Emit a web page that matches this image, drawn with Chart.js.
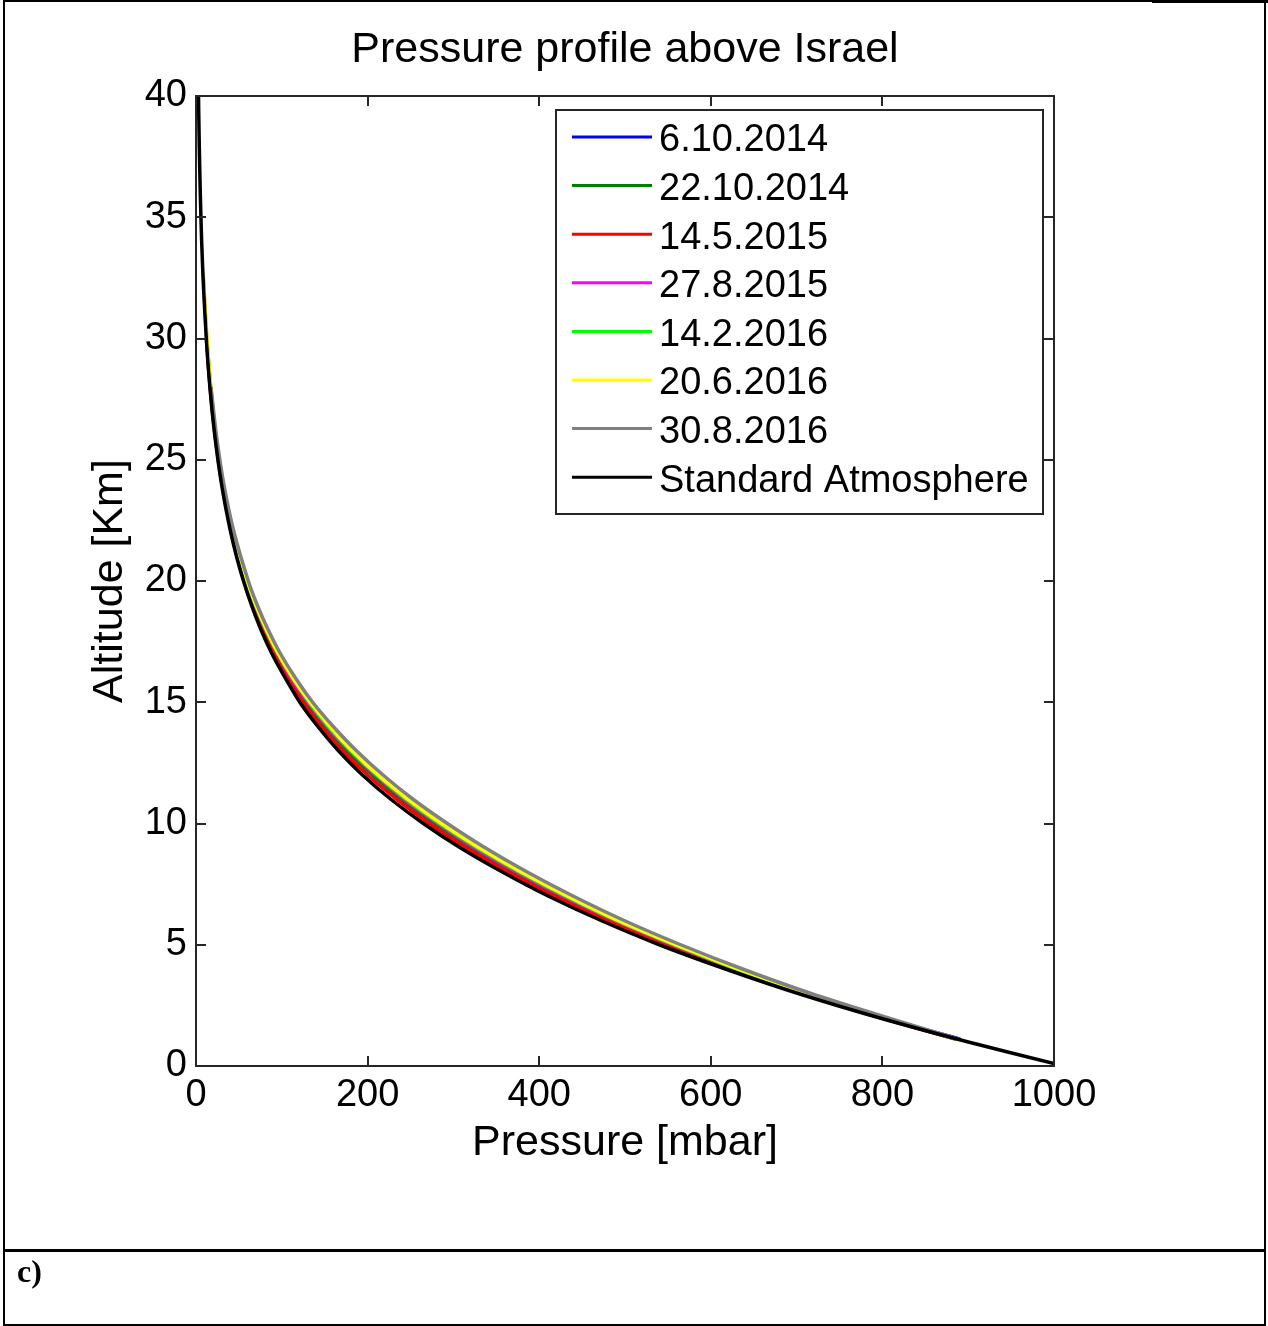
<!DOCTYPE html>
<html>
<head>
<meta charset="utf-8">
<script src="https://cdn.jsdelivr.net/npm/chart.js@4.4.1/dist/chart.umd.min.js"></script>
<style>
    html, body { margin: 0; padding: 0; background: #fff; }
    #page { position: relative; width: 1268px; height: 1326px; overflow: hidden; background: #fff; }
    #chart { position: absolute; left: 0; top: 0; }
    .rule { position: absolute; background: #000; }
    #panel { position: absolute; left: 17px; top: 1253px; font: bold 32px "Liberation Serif", "Times New Roman", serif; color: #000; }
</style>
</head>
<body>
<div id="page">
    <canvas id="chart" width="1268" height="1326"></canvas>
    <div class="rule" style="left:3px;top:0;width:1265px;height:2px"></div>
    <div class="rule" style="left:1152px;top:0;width:116px;height:3px"></div>
    <div class="rule" style="left:3px;top:0;width:2px;height:1326px"></div>
    <div class="rule" style="left:1264px;top:0;width:2px;height:1326px"></div>
    <div class="rule" style="left:3px;top:1249px;width:1263px;height:3px"></div>
    <div class="rule" style="left:3px;top:1324px;width:1263px;height:2px"></div>
    <div id="panel">c)</div>
</div>
<script>
// altitude in km, pressure in mbar
const stdAltitude = [0.1, 1, 2, 3, 4, 5, 6, 7, 8, 9, 10, 11, 12, 13, 14, 15, 16, 17, 18, 19, 20,
    21, 22, 23, 24, 25, 26, 27, 28, 29, 30, 32, 34, 36, 38, 40];
const stdPressure = [1000, 899, 795, 701, 617, 540, 472, 411, 357, 308, 265, 227, 194, 166, 142, 121, 104, 88.5, 75.6, 64.7, 55.3,
    47.3, 40.5, 34.7, 29.7, 25.5, 21.9, 18.8, 16.2, 13.9, 12.0, 8.9, 6.6, 5.0, 3.8, 2.9];

const sondeAltitude = [1.1, 2, 3, 4, 5, 6, 7, 8, 9, 10, 11, 12, 13, 14, 15, 16, 17, 18, 19, 20, 22, 24, 26, 28, 30, 32.7];
const p20141006 = [891, 800, 709, 627, 553, 485, 425, 371, 322, 279, 240, 206, 176, 150, 128, 109.5, 93.5, 79.5, 68, 58, 42.4, 31.0, 22.8, 16.8, null, null];
const p20141022 = [887, 799, 708, 626, 553, 485, 425, 371, 322, 279, 240, 206, 176, 150, 128, 109.5, 93.5, 79.5, 68, 58, 42.4, 31.0, 22.8, 16.8, 12.4, null];
const p20150514 = [886, 797, 705, 622, 547, 479, 418, 364, 315, 272, 234, 200, 171, 146, 124.5, 106.5, 90.5, 77.5, 66.2, 56.6, 41.4, 30.3, 22.3, 16.4, 12.2, null];
const p20150827 = [888, 800, 710, 629, 555, 488, 428, 374, 325, 282, 243, 209, 179, 153, 130.5, 111, 95, 81, 69, 58.9, 43.0, 31.4, 23.1, 17.0, 12.6, 8.3];
const p20160214 = [887, 801, 711, 630, 557, 490, 431, 377, 328, 284, 245, 210.5, 180.5, 154.5, 132, 112.5, 95.5, 81.5, 69.6, 59.4, 43.3, 31.6, 23.2, 17.1, 12.7, null];
const p20160620 = [888, 802, 712, 632, 559, 492, 433, 379, 330, 286, 247, 212, 182, 156, 133, 113, 96, 82, 70, 59.8, 43.5, 31.8, 23.4, 17.2, 12.8, 8.4];
const p20160830 = [889, 805, 716, 637, 565, 499, 440, 386, 337, 293, 253, 218, 187, 160, 136, 116, 98.5, 84, 71.5, 61, 44.4, 32.4, 23.8, 17.5, null, null];

const seriesLabels = ["6.10.2014", "22.10.2014", "14.5.2015", "27.8.2015", "14.2.2016", "20.6.2016", "30.8.2016", "Standard Atmosphere"];
const seriesColors = ["#0000ff", "#008000", "#ff0000", "#ff00ff", "#00ff00", "#ffff00", "#808080", "#000000"];

const pressureTicks = [0, 200, 400, 600, 800, 1000];
const altitudeTicks = [0, 5, 10, 15, 20, 25, 30, 35, 40];

const FONT = "'Liberation Sans', Arial, sans-serif";

function toPoints(pressures, altitudes) {
    return altitudes
        .map((h, i) => ({ x: pressures[i], y: h }))
        .filter((p) => p.x !== null);
}

const seriesPressures = [p20141006, p20141022, p20150514, p20150827, p20160214, p20160620, p20160830];

const datasets = seriesPressures.map((pressures, i) => ({
    label: seriesLabels[i],
    data: toPoints(pressures, sondeAltitude),
}));
datasets.push({
    label: seriesLabels[7],
    data: toPoints(stdPressure, stdAltitude),
});
datasets.forEach((ds, i) => {
    ds.borderColor = seriesColors[i];
    ds.backgroundColor = seriesColors[i];
    ds.borderWidth = 3.5;
    ds.pointRadius = 0;
    ds.showLine = true;
    ds.tension = 0.3;
    // later series on top, as in the original plot
    ds.order = datasets.length - 1 - i;
});

// matlab style box: frame, inward ticks on all sides, legend inside the axes
const boxPlugin = {
    id: "box",
    afterDraw(chart) {
        const { ctx, chartArea: a, scales } = chart;
        const tick = 10;
        ctx.save();
        ctx.strokeStyle = "#262626";
        ctx.lineWidth = 2;
        ctx.strokeRect(a.left, a.top, a.right - a.left, a.bottom - a.top);
        ctx.beginPath();
        pressureTicks.forEach((v) => {
            const x = Math.round(scales.x.getPixelForValue(v));
            ctx.moveTo(x, a.bottom);
            ctx.lineTo(x, a.bottom - tick);
            ctx.moveTo(x, a.top);
            ctx.lineTo(x, a.top + tick);
        });
        altitudeTicks.forEach((v) => {
            const y = Math.round(scales.y.getPixelForValue(v));
            ctx.moveTo(a.left, y);
            ctx.lineTo(a.left + tick, y);
            ctx.moveTo(a.right, y);
            ctx.lineTo(a.right - tick, y);
        });
        ctx.stroke();

        // legend
        const lx = 556, ly = 110, lw = 487, lh = 404;
        ctx.fillStyle = "#fff";
        ctx.fillRect(lx, ly, lw, lh);
        ctx.strokeStyle = "#262626";
        ctx.lineWidth = 2;
        ctx.strokeRect(lx, ly, lw, lh);
        ctx.font = "38px " + FONT;
        ctx.textBaseline = "middle";
        ctx.textAlign = "left";
        chart.data.datasets.forEach((ds, i) => {
            const y = 137 + i * 48.6;
            ctx.strokeStyle = ds.borderColor;
            ctx.lineWidth = 3;
            ctx.beginPath();
            ctx.moveTo(572, y);
            ctx.lineTo(652, y);
            ctx.stroke();
            ctx.fillStyle = "#000";
            ctx.fillText(ds.label, 659, y + 4);
        });
        ctx.restore();
    },
};

new Chart(document.getElementById("chart"), {
    type: "scatter",
    data: { datasets },
    options: {
        responsive: false,
        animation: false,
        layout: { padding: { left: 0, right: 214, top: 0, bottom: 157 } },
        plugins: {
            legend: { display: false },
            tooltip: { enabled: false },
            title: {
                display: true,
                fullSize: false,
                text: "Pressure profile above Israel",
                color: "#000",
                font: { family: FONT, size: 43, weight: "normal" },
                padding: { top: 24, bottom: 20.4 },
            },
        },
        scales: {
            x: {
                type: "linear",
                min: 0,
                max: 1000,
                afterFit: (s) => { s.height = 103; },
                afterBuildTicks: (s) => { s.ticks = pressureTicks.map((v) => ({ value: v })); },
                ticks: {
                    color: "#000",
                    font: { family: FONT, size: 38 },
                    padding: 7,
                    maxRotation: 0,
                    autoSkip: false,
                    callback: (v) => String(v),
                },
                grid: { display: false, drawTicks: false },
                border: { display: false },
                title: {
                    display: true,
                    text: "Pressure [mbar]",
                    color: "#000",
                    font: { family: FONT, size: 43 },
                    padding: { top: 0, bottom: 0 },
                },
            },
            y: {
                type: "linear",
                min: 0,
                max: 40,
                afterFit: (s) => { s.width = 196; },
                afterBuildTicks: (s) => { s.ticks = altitudeTicks.map((v) => ({ value: v })); },
                ticks: {
                    color: "#000",
                    font: { family: FONT, size: 38 },
                    padding: 9,
                    autoSkip: false,
                    callback: (v) => String(v),
                },
                grid: { display: false, drawTicks: false },
                border: { display: false },
                title: {
                    display: true,
                    text: "Altitude [Km]",
                    color: "#000",
                    font: { family: FONT, size: 43 },
                    padding: { top: 84, bottom: 0 },
                },
            },
        },
    },
    plugins: [boxPlugin],
});
</script>
</body>
</html>
